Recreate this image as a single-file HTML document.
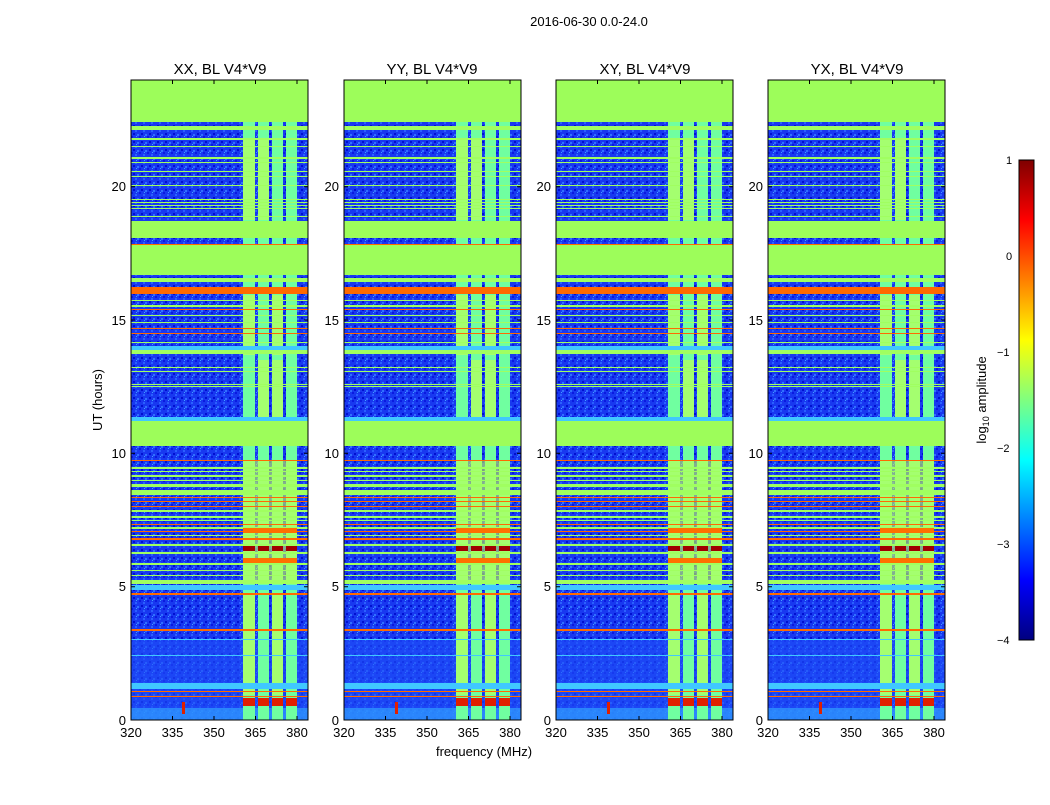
<!DOCTYPE html>
<html><head><meta charset="utf-8"><style>
body{margin:0;background:#fff;}
svg text{font-family:"Liberation Sans",sans-serif;}
</style></head><body>
<svg width="1050" height="800" viewBox="0 0 1050 800" xmlns="http://www.w3.org/2000/svg">
<defs>
<pattern id="noise" width="8" height="8" patternUnits="userSpaceOnUse">
<rect width="8" height="8" fill="#1838f0"/>
<rect x="0" y="0" width="2" height="2" fill="#0a1ae0"/>
<rect x="4" y="2" width="2" height="2" fill="#2a60ff"/>
<rect x="2" y="5" width="2" height="2" fill="#0010d0"/>
<rect x="6" y="6" width="2" height="2" fill="#3070ff"/>
<rect x="5" y="0" width="1" height="1" fill="#40a0ff"/>
</pattern>
<clipPath id="pc"><rect x="0" y="0" width="177" height="640"/></clipPath>
<linearGradient id="jet" x1="0" y1="1" x2="0" y2="0">
<stop offset="0" stop-color="#00007f"/><stop offset="0.125" stop-color="#0000ff"/>
<stop offset="0.375" stop-color="#00ffff"/><stop offset="0.625" stop-color="#ffff00"/>
<stop offset="0.875" stop-color="#ff0000"/><stop offset="1" stop-color="#7f0000"/>
</linearGradient>
<g id="panel">
<g clip-path="url(#pc)">
<rect width="177" height="640" fill="url(#noise)"/>
<rect x="0" y="560" width="177" height="80" fill="#2050f8" opacity="0.6"/>
<rect x="0" y="628" width="177" height="12" fill="#30a0ff" opacity="0.7"/>
<g fill="#70ffa0">
<rect x="112" y="42" width="12" height="598"/><rect x="127" y="42" width="11" height="598"/>
<rect x="141" y="42" width="11" height="598"/><rect x="155" y="42" width="11" height="598"/>
</g>
<g fill="#c8ff50" opacity="0.6">
<rect x="112" y="60" width="12" height="80"/><rect x="127" y="60" width="11" height="80"/>
<rect x="112" y="215" width="12" height="60"/><rect x="141" y="215" width="11" height="60"/>
<rect x="127" y="280" width="11" height="60"/><rect x="141" y="280" width="11" height="60"/>
<rect x="112" y="380" width="54" height="120"/>
<rect x="112" y="515" width="12" height="100"/><rect x="141" y="515" width="11" height="100"/>
</g>
<g fill="#a0ff60">
<rect x="0" y="46" width="177" height="4"/><rect y="58" width="177" height="2"/><rect y="66" width="177" height="1"/>
<rect y="77" width="177" height="2"/><rect y="82" width="177" height="1"/><rect y="91" width="177" height="1"/>
<rect y="96" width="177" height="1"/><rect y="105" width="177" height="1"/><rect y="119" width="177" height="1"/>
<rect y="122" width="177" height="1"/><rect y="125" width="177" height="1"/><rect y="128" width="177" height="1"/>
<rect y="136" width="177" height="1"/><rect y="198" width="177" height="4"/><rect y="220" width="177" height="1"/>
<rect y="225" width="177" height="2"/><rect y="235" width="177" height="1"/><rect y="242" width="177" height="1"/>
<rect y="262" width="177" height="1"/><rect y="270" width="177" height="4"/><rect y="287" width="177" height="1"/>
<rect y="291" width="177" height="1"/><rect y="304" width="177" height="1"/><rect y="306" width="177" height="1"/>
<rect y="387" width="177" height="2"/><rect y="391" width="177" height="1"/><rect y="395" width="177" height="2"/>
<rect y="400" width="177" height="1"/><rect y="404" width="177" height="3"/><rect y="410" width="177" height="5"/>
<rect y="430" width="177" height="2"/><rect y="436" width="177" height="2"/><rect y="440" width="177" height="1"/>
<rect y="447" width="177" height="2"/><rect y="455" width="177" height="1"/><rect y="464" width="177" height="2"/>
<rect y="472" width="177" height="2"/><rect y="483" width="177" height="2"/><rect y="490" width="177" height="1"/>
<rect y="495" width="177" height="1"/><rect y="500" width="177" height="4"/>
</g>
<g fill="#40c8ff">
<rect y="266" width="177" height="4"/><rect y="337" width="177" height="4"/><rect y="505" width="177" height="5"/>
<rect y="559" width="177" height="1"/><rect y="575" width="177" height="1"/><rect y="603" width="177" height="6"/>
</g>
<g fill="#ff6a00">
<rect y="164" width="177" height="1"/><rect y="207" width="177" height="7"/><rect y="229" width="177" height="1"/>
<rect y="248" width="177" height="1"/><rect y="253" width="177" height="1"/>
<rect y="380" width="177" height="1"/><rect y="417" width="177" height="1"/><rect y="421" width="177" height="1"/>
<rect y="426" width="177" height="1"/><rect y="444" width="177" height="1"/><rect y="451" width="177" height="1"/>
<rect y="458" width="177" height="2"/><rect y="513" width="177" height="2"/><rect y="549" width="177" height="2"/>
<rect y="611" width="177" height="1"/><rect y="616" width="177" height="1"/>
</g>
<g fill="#ff7000">
<rect x="112" y="448" width="54" height="5"/><rect x="112" y="478" width="54" height="5"/>
</g>
<g fill="#a00000">
<rect x="112" y="466" width="12" height="5"/><rect x="127" y="466" width="11" height="5"/>
<rect x="141" y="466" width="11" height="5"/><rect x="155" y="466" width="11" height="5"/>
</g>
<g fill="#e02000">
<rect x="112" y="618" width="12" height="8"/><rect x="127" y="618" width="11" height="8"/>
<rect x="141" y="618" width="11" height="8"/><rect x="155" y="618" width="11" height="8"/>
<rect x="51" y="622" width="3" height="12"/>
</g>
<g fill="#9dfd5a">
<rect width="177" height="42"/><rect y="141" width="177" height="17"/>
<rect y="165" width="177" height="30"/><rect y="341" width="177" height="25"/>
</g>
</g>
<rect x="0" y="0" width="177" height="640" fill="none" stroke="#000" stroke-width="1"/>
<g stroke="#000" stroke-width="1">
<path d="M41.5,640v-4M83,640v-4M124.5,640v-4M166,640v-4M41.5,0v4M83,0v4M124.5,0v4M166,0v4"/>
<path d="M0,506.7h4M0,373.3h4M0,240h4M0,106.7h4M177,506.7h-4M177,373.3h-4M177,240h-4M177,106.7h-4"/>
</g>
<g font-size="13" text-anchor="middle">
<text x="0" y="657">320</text><text x="41.5" y="657">335</text><text x="83" y="657">350</text>
<text x="124.5" y="657">365</text><text x="166" y="657">380</text>
</g>
<g font-size="13" text-anchor="end">
<text x="-5" y="645">0</text><text x="-5" y="511">5</text><text x="-5" y="378">10</text>
<text x="-5" y="245">15</text><text x="-5" y="111">20</text>
</g>
</g>
</defs>
<text x="589" y="26" font-size="13" text-anchor="middle">2016-06-30 0.0-24.0</text>
<use href="#panel" x="131" y="80"/>
<use href="#panel" x="344" y="80"/>
<use href="#panel" x="556" y="80"/>
<use href="#panel" x="768" y="80"/>
<g font-size="15" text-anchor="middle">
<text x="220" y="74">XX, BL V4*V9</text><text x="432" y="74">YY, BL V4*V9</text>
<text x="645" y="74">XY, BL V4*V9</text><text x="857" y="74">YX, BL V4*V9</text>
</g>
<text x="484" y="756" font-size="13" text-anchor="middle">frequency (MHz)</text>
<text transform="translate(102,400) rotate(-90)" font-size="13" text-anchor="middle">UT (hours)</text>
<rect x="1019" y="160" width="15" height="480" fill="url(#jet)" stroke="#000" stroke-width="1"/>
<g font-size="11">
<text x="1006" y="164">1</text><text x="1006" y="260">0</text><text x="997" y="356">−1</text>
<text x="997" y="452">−2</text><text x="997" y="548">−3</text><text x="997" y="644">−4</text>
</g>
<text transform="translate(986,400) rotate(-90)" font-size="13" text-anchor="middle">log<tspan font-size="9" dy="3">10</tspan><tspan dy="-3"> amplitude</tspan></text>
</svg>
</body></html>
